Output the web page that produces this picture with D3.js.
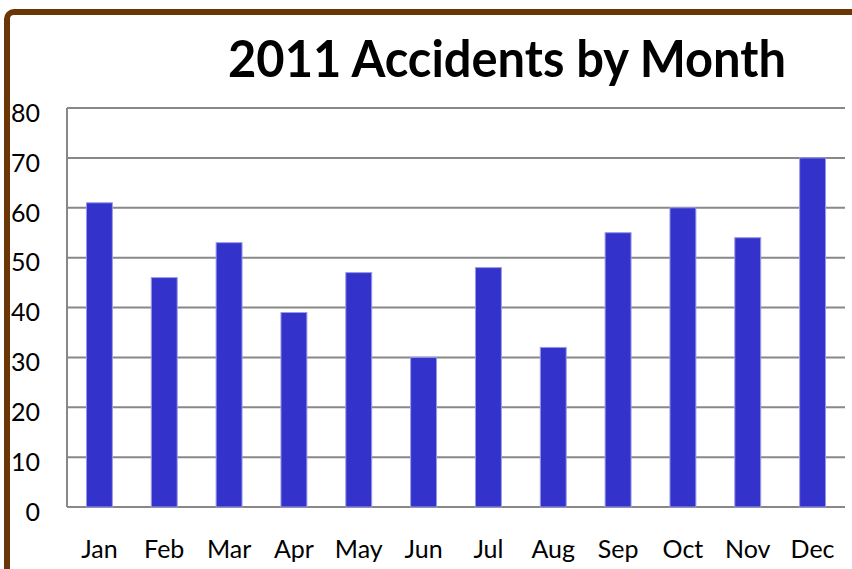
<!DOCTYPE html>
<html lang="en">
<head>
    <meta charset="UTF-8">
    <title>2011 Accidents by Month</title>
    <script src="https://d3js.org/d3.v7.min.js"></script>
    <style>
        body { margin: 0; background: #fff; }
        svg { display: block; font-family: Lato, "Open Sans", sans-serif; }
    </style>
</head>
<body>
    <div id="chart"></div>
    <script>
        // Data
        const months = ["Jan", "Feb", "Mar", "Apr", "May", "Jun", "Jul", "Aug", "Sep", "Oct", "Nov", "Dec"];
        const accidents = [61, 46, 53, 39, 47, 30, 48, 32, 55, 60, 54, 70];
        const yTicks = [0, 10, 20, 30, 40, 50, 60, 70, 80];

        const W = 852, H = 569;
        const margin = {top: 108, right: 7, bottom: 62, left: 67};

        const svg = d3.select("#chart")
            .append("svg")
            .attr("width", W)
            .attr("height", H);

        // brown frame, open to the right and bottom
        svg.append("rect")
            .attr("x", 7)
            .attr("y", 12)
            .attr("width", W + 40)
            .attr("height", H + 40)
            .attr("rx", 7)
            .attr("fill", "none")
            .attr("stroke", "#6a3606")
            .attr("stroke-width", 6);

        // title
        const title = svg.append("text")
            .attr("x", 507)
            .attr("y", 77)
            .attr("text-anchor", "middle")
            .attr("font-size", "52px")
            .attr("font-weight", "bold")
            .attr("fill", "#000")
            .text("2011 Accidents by Month");
        // fit the title width to the reference
        if (title.node().getComputedTextLength() > 558) {
            title.attr("textLength", 558).attr("lengthAdjust", "spacingAndGlyphs");
        }

        const x = d3.scaleBand()
            .domain(months)
            .range([margin.left, W - margin.right])
            .paddingInner(0.6)
            .paddingOuter(0.3);

        const y = d3.scaleLinear()
            .domain([0, 80])
            .range([H - margin.bottom, margin.top]);

        // gridlines
        svg.append("g")
            .selectAll("line")
            .data(yTicks)
            .join("line")
            .attr("x1", margin.left)
            .attr("x2", W - margin.right)
            .attr("y1", d => y(d))
            .attr("y2", d => y(d))
            .attr("stroke", "#888")
            .attr("stroke-width", 2);

        // left axis line
        svg.append("line")
            .attr("x1", margin.left)
            .attr("x2", margin.left)
            .attr("y1", y(80))
            .attr("y2", y(0))
            .attr("stroke", "#888")
            .attr("stroke-width", 2);

        // bars
        svg.append("g")
            .selectAll("rect")
            .data(accidents)
            .join("rect")
            .attr("x", (d, i) => x(months[i]))
            .attr("y", d => y(d))
            .attr("width", x.bandwidth())
            .attr("height", d => y(0) - y(d))
            .attr("fill", "#3333cc")
            .attr("stroke", "#9a9ae8")
            .attr("stroke-width", 1);

        // y labels
        svg.append("g")
            .selectAll("text")
            .data(yTicks)
            .join("text")
            .attr("x", 40)
            .attr("y", d => y(d))
            .attr("dy", "0.55em")
            .attr("text-anchor", "end")
            .attr("font-size", "25px")
            .attr("fill", "#000")
            .text(d => d);

        // x labels
        svg.append("g")
            .selectAll("text")
            .data(months)
            .join("text")
            .attr("x", d => x(d) + x.bandwidth() / 2)
            .attr("y", 558)
            .attr("text-anchor", "middle")
            .attr("font-size", "25px")
            .attr("fill", "#000")
            .text(d => d);
    </script>
</body>
</html>
